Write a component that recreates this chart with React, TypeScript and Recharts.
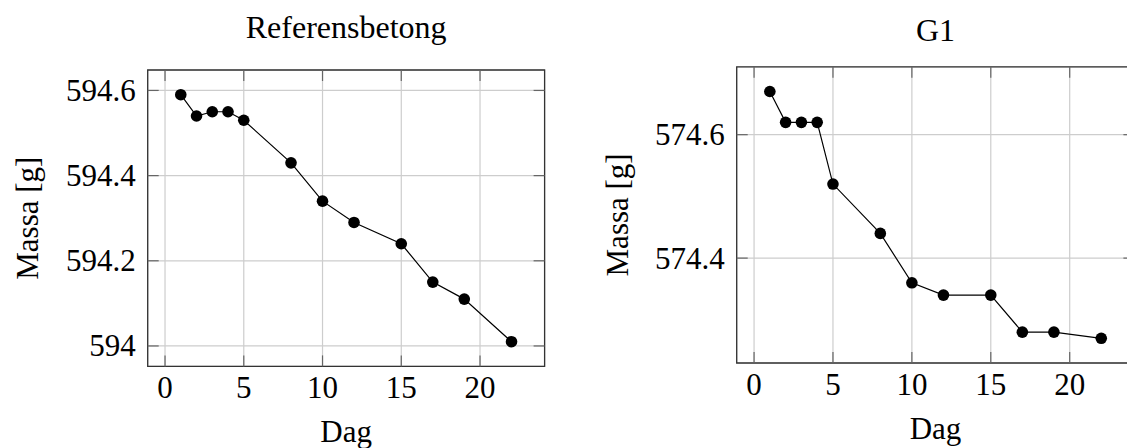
import {
    CartesianGrid,
    Line,
    LineChart,
    ReferenceArea,
    XAxis,
    YAxis,
} from "recharts";

// measurement days
const DAYS = [1, 2, 3, 4, 5, 8, 10, 12, 15, 17, 19, 22];
// mass [g] per day
const REF_MASS = [594.59, 594.54, 594.55, 594.55, 594.53, 594.43, 594.34, 594.29, 594.24, 594.15, 594.11, 594.01];
const G1_MASS = [574.67, 574.62, 574.62, 574.62, 574.52, 574.44, 574.36, 574.34, 574.34, 574.28, 574.28, 574.27];

const X_TICKS = [0, 5, 10, 15, 20];
const REF_Y_TICKS = [594, 594.2, 594.4, 594.6];
const G1_Y_TICKS = [574.4, 574.6];

const X_DOMAIN: [number, number] = [-1.1, 24.1];
const REF_Y_DOMAIN: [number, number] = [593.952, 594.648];
const G1_Y_DOMAIN: [number, number] = [574.23, 574.71];

const FONT = "'Liberation Serif', 'Times New Roman', serif";
const FONT_SIZE = 31;
const TITLE_SIZE = 32;
const TICK_LEN = 11;
const GRID_COLOR = "#cdcdcd";
const TICK_COLOR = "#666";

interface Box {
    left: number;
    right: number;
    top: number;
    bottom: number;
}

interface PanelProps {
    title: string;
    days: number[];
    mass: number[];
    yDomain: [number, number];
    yTicks: number[];
    width: number;
    box: Box;
    titleY: number;
    yLabelX: number;
    dagY: number;
}

const fmt = (v: number) => String(Math.round(v * 10) / 10);

function XTick({ x, payload, box }: any) {
    return (
        <g>
            <line x1={x} x2={x} y1={box.bottom} y2={box.bottom - TICK_LEN} stroke={TICK_COLOR} strokeWidth={1.2} />
            <line x1={x} x2={x} y1={box.top} y2={box.top + TICK_LEN} stroke={TICK_COLOR} strokeWidth={1.2} />
            <text
                x={x}
                y={box.bottom + 10}
                dy="0.7em"
                textAnchor="middle"
                fill="#000"
                fontFamily={FONT}
                fontSize={FONT_SIZE}
            >
                {payload.value}
            </text>
        </g>
    );
}

function YTick({ y, payload, box }: any) {
    return (
        <g>
            <line x1={box.left} x2={box.left + TICK_LEN} y1={y} y2={y} stroke={TICK_COLOR} strokeWidth={1.2} />
            <line x1={box.right - TICK_LEN} x2={box.right} y1={y} y2={y} stroke={TICK_COLOR} strokeWidth={1.2} />
            <text
                x={box.left - 12}
                y={y}
                dy="0.34em"
                textAnchor="end"
                fill="#000"
                fontFamily={FONT}
                fontSize={FONT_SIZE}
            >
                {fmt(payload.value)}
            </text>
        </g>
    );
}

function Panel({ title, days, mass, yDomain, yTicks, width, box, titleY, yLabelX, dagY }: PanelProps) {
    const height = 448;
    const data = days.map((d, i) => ({ day: d, mass: mass[i] }));
    const midX = (box.left + box.right) / 2;
    const midY = (box.top + box.bottom) / 2;

    return (
        <div style={{ position: "relative", width, height }}>
            <LineChart
                width={width}
                height={height}
                data={data}
                margin={{ top: box.top, right: width - box.right, left: 0, bottom: 0 }}
            >
                <CartesianGrid stroke={GRID_COLOR} strokeWidth={1.2} />
                <XAxis
                    dataKey="day"
                    type="number"
                    domain={X_DOMAIN}
                    ticks={X_TICKS}
                    allowDataOverflow
                    height={height - box.bottom}
                    axisLine={false}
                    tickLine={false}
                    tickSize={0}
                    tick={(p: any) => <XTick {...p} box={box} />}
                />
                <YAxis
                    type="number"
                    domain={yDomain}
                    ticks={yTicks}
                    allowDataOverflow
                    width={box.left}
                    axisLine={false}
                    tickLine={false}
                    tickSize={0}
                    tick={(p: any) => <YTick {...p} box={box} />}
                />
                <ReferenceArea
                    x1={X_DOMAIN[0]}
                    x2={X_DOMAIN[1]}
                    y1={yDomain[0]}
                    y2={yDomain[1]}
                    fill="none"
                    stroke="#333"
                    strokeWidth={1.3}
                    ifOverflow="visible"
                />
                <Line
                    type="linear"
                    dataKey="mass"
                    stroke="#000"
                    strokeWidth={1.2}
                    dot={{ r: 5.8, fill: "#000", stroke: "#000", strokeWidth: 0 }}
                    isAnimationActive={false}
                />
            </LineChart>
            <svg
                width={width}
                height={height}
                style={{ position: "absolute", left: 0, top: 0, pointerEvents: "none" }}
            >
                <text x={midX} y={titleY} textAnchor="middle" fontFamily={FONT} fontSize={TITLE_SIZE} fill="#000">
                    {title}
                </text>
                <text x={midX} y={dagY} textAnchor="middle" fontFamily={FONT} fontSize={FONT_SIZE} fill="#000">
                    Dag
                </text>
                <text
                    transform={`translate(${yLabelX},${midY}) rotate(-90)`}
                    textAnchor="middle"
                    dominantBaseline="central"
                    fontFamily={FONT}
                    fontSize={FONT_SIZE}
                    fill="#000"
                >
                    Massa [g]
                </text>
            </svg>
        </div>
    );
}

export default function App() {
    return (
        <div
            style={{
                position: "absolute",
                left: 0,
                top: 0,
                width: 1127,
                height: 448,
                overflow: "hidden",
                background: "#fff",
            }}
        >
            <div style={{ position: "absolute", left: 0, top: 0 }}>
                <Panel
                    title="Referensbetong"
                    days={DAYS}
                    mass={REF_MASS}
                    yDomain={REF_Y_DOMAIN}
                    yTicks={REF_Y_TICKS}
                    width={560}
                    box={{ left: 147.7, right: 544.6, top: 70, bottom: 366.4 }}
                    titleY={38}
                    yLabelX={27}
                    dagY={442}
                />
            </div>
            <div style={{ position: "absolute", left: 560, top: 0 }}>
                <Panel
                    title="G1"
                    days={DAYS}
                    mass={G1_MASS}
                    yDomain={G1_Y_DOMAIN}
                    yTicks={G1_Y_TICKS}
                    width={580}
                    box={{ left: 176.7, right: 574.4, top: 66.8, bottom: 363 }}
                    titleY={41}
                    yLabelX={57}
                    dagY={439}
                />
            </div>
        </div>
    );
}
